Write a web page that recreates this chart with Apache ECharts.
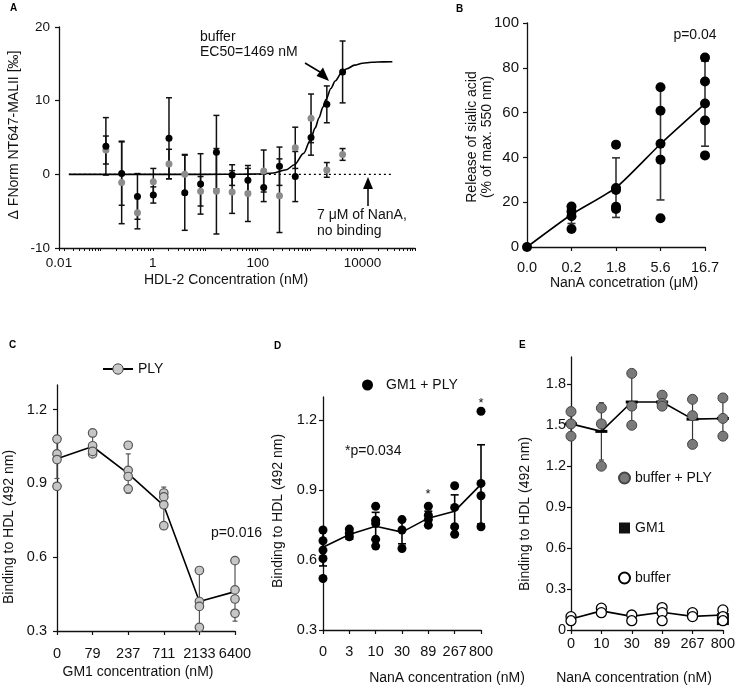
<!DOCTYPE html>
<html><head><meta charset="utf-8">
<script src="https://cdn.jsdelivr.net/npm/echarts@6/dist/echarts.min.js"></script>
<style>html,body{margin:0;padding:0;background:#fff}#c{width:738px;height:691px}</style>
</head><body><div id="c"></div>
<script>
// ---------- Panel A ----------
const aConc = [0.127,0.254,0.508,1.02,2.03,4.06,8.13,16.3,32.5,65,130,260,520,1040,2080,4160];
const aBufferMean = [3.8,0.1,-3.0,-2.8,4.9,-2.5,-1.3,3.0,-0.1,-0.8,-1.8,1.1,-0.3,5.0,9.5,13.9];
const aBufferSD   = [3.9,4.3,3.1,1.1,5.5,5.1,4.1,5.0,1.4,1.6,1.9,2.6,3.4,2.4,2.5,4.2];
const aNanAMean   = [3.3,-1.1,-5.2,-1.0,1.4,0.0,-2.3,-2.3,-2.4,-2.6,0.45,-2.9,3.6,7.6,0.6,2.7];
const aNanASD     = [1.9,5.6,2.2,1.8,2.0,2.7,2.0,5.8,2.9,3.8,2.85,5.0,2.8,3.3,1.0,0.8];
const aFitConc  = [0.025,10,50,100,200,350,500,750,1000,1250,1469,1750,2000,2500,3000,4000,5000,7000,10000,15000,25000,37000];
const aFitValue = [0,0,0.01,0.04,0.19,0.62,1.31,2.84,4.59,6.3,7.65,9.11,10.15,11.68,12.67,13.78,14.33,14.82,15.08,15.21,15.27,15.29];
const aNoBindingConc  = [0.025,37000];
const aNoBindingValue = [0,0];
const aTickValues = [0.0162,1,100,10000];
const aTickLabels = ['0.01','1','100','10000'];

// ---------- Panel B ----------
const bCats = ['0.0','0.2','1.8','5.6','16.7'];
const bReplicates = [[0],[18.1,15.9,13.7,8.0],[45.7,26.3,25.5,18.0,17.0],[71.3,60.8,46.1,39.0,12.8],[84.6,73.9,64.1,56.5,40.9]];
const bMean = [0,14.5,26.5,46,64];
const bSD   = [0,4,13.3,25,19];

// ---------- Panel C ----------
const cCats = ['0','79','237','711','2133','6400'];
const cReplicates = [[1.08,1.02,0.997,0.888],[1.105,1.053,1.02,1.03],[1.055,0.953,0.928,0.878],[0.861,0.845,0.813,0.728],[0.546,0.42,0.40,0.315],[0.586,0.467,0.43,0.372]];
const cMean = [1.0,1.05,0.94,0.81,0.42,0.46];
const cSD   = [0.08,0.04,0.08,0.075,0.12,0.12];

// ---------- Panel D ----------
const dCats = ['0','3','10','30','89','267','800'];
const dReplicates = [[0.729,0.683,0.643,0.607,0.521],[0.733,0.715,0.70],[0.831,0.771,0.757,0.689,0.66],[0.774,0.729,0.65],[0.831,0.793,0.774,0.75],[0.919,0.826,0.743,0.711],[1.239,0.929,0.876,0.743]];
const dMean = [0.655,0.71,0.745,0.72,0.78,0.81,0.925];
const dSD   = [0.08,0.02,0.06,0.05,0.03,0.07,0.17];

// ---------- Panel E ----------
const eCats = ['0','10','30','89','267','800'];
const ePlyReplicates = [[1.60,1.51,1.42],[1.626,1.51,1.20],[1.88,1.64,1.50],[1.72,1.66,1.64],[1.69,1.57,1.36],[1.70,1.55,1.42]];
const ePlyMean = [1.51,1.455,1.67,1.67,1.545,1.55];
const ePlySD   = [0.09,0.21,0.19,0.04,0.17,0.14];
const eBufferReplicates = [[0.098,0.068],[0.16,0.127],[0.11,0.068],[0.164,0.127,0.068],[0.127,0.098],[0.147,0.098,0.068]];
const eBufferMean = [0.08,0.14,0.10,0.13,0.10,0.11];
const eGm1Cats = ['800'];
const eGm1Values = [0.08];

const yTicks03 = [0.3,0.6,0.9,1.2];
const yTicksE = [0,0.3,0.6,0.9,1.2,1.5,1.8];

// ---------- helpers ----------
const FONT = 'Liberation Sans, Arial, sans-serif';
const AX = '#111';
function flat(cats, reps){ const out=[]; cats.forEach((c,i)=>reps[i].forEach(v=>out.push([c,v]))); return out; }
function pairs(xs, ys){ return xs.map((x,i)=>[x, ys[i]]); }
function errBars(xi, cats, mean, sd, o){
  return {
    type:'custom', xAxisIndex:xi, yAxisIndex:xi, z:o.z||2, silent:true,
    data: cats.map((c,i)=>[c, mean[i]-sd[i], mean[i]+sd[i], mean[i]]),
    encode:{x:0, y:[1,2]},
    renderItem(params, api){
      const x = api.value(0);
      const lo = api.coord([x, api.value(1)]);
      const hi = api.coord([x, api.value(2)]);
      const st = {stroke:o.color, lineWidth:o.width, fill:null};
      const w = o.cap/2;
      const ch = [
        {type:'line', shape:{x1:lo[0],y1:lo[1],x2:hi[0],y2:hi[1]}, style:st},
        {type:'line', shape:{x1:lo[0]-w,y1:lo[1],x2:lo[0]+w,y2:lo[1]}, style:st},
        {type:'line', shape:{x1:hi[0]-w,y1:hi[1],x2:hi[0]+w,y2:hi[1]}, style:st}
      ];
      if (o.meanDash){
        const m = api.coord([x, api.value(3)]);
        ch.push({type:'line', shape:{x1:m[0]-6,y1:m[1],x2:m[0]+6,y2:m[1]}, style:{stroke:'#000', lineWidth:3}});
      }
      return {type:'group', children:ch};
    }
  };
}
function catX(gi, cats, margin){
  return {type:'category', gridIndex:gi, data:cats, boundaryGap:false,
    axisLine:{lineStyle:{color:AX,width:1.3}}, axisTick:{length:4,interval:0,lineStyle:{color:AX,width:1.2}},
    axisLabel:{interval:0, hideOverlap:false, fontSize:14.5, color:'#111', fontFamily:FONT, margin:margin}, splitLine:{show:false}};
}
function valY(gi, o){
  const ax = {type:'value', gridIndex:gi, min:o.min, max:o.max,
    axisLine:{show:true, lineStyle:{color:AX,width:1.3}}, axisTick:{show:true,length:4,lineStyle:{color:AX,width:1.2}},
    axisLabel:{fontSize:o.fs, color:'#111', fontFamily:FONT, margin:o.margin}, splitLine:{show:false}};
  if (o.interval) ax.interval = o.interval;
  if (o.custom){ ax.axisLabel.customValues = o.custom; ax.axisTick.customValues = o.custom;
    ax.axisLabel.formatter = v => (Math.abs(v) < 1e-9 ? '0' : (+v).toFixed(1)); }
  return ax;
}

const aMinorTicks = [];
for (let e=-2; e<=4; e++) for (let m=1; m<=9; m++){ const v=m*Math.pow(10,e); if (v>=0.0162) aMinorTicks.push(+v.toPrecision(3)); }
aMinorTicks.push(100000); aMinorTicks.unshift(0.0162);

const solid = (c) => ({color:c, opacity:1});

const option = {
  animation:false,
  textStyle:{fontFamily:FONT},
  grid:[
    {left:59, top:27, width:356, height:221},
    {left:527, top:23, width:178, height:224},
    {left:57, top:385, width:178, height:246},
    {left:323, top:397, width:158, height:233},
    {left:571, top:357, width:157, height:273}
  ],
  xAxis:[
    {type:'log', gridIndex:0, logBase:10, min:0.0162, max:100000,
      axisLine:{onZero:false, lineStyle:{color:AX,width:1.3}},
      axisTick:{length:3, customValues:aMinorTicks, lineStyle:{color:AX,width:1}},
      axisLabel:{customValues:aTickValues, fontSize:13.5, color:'#111', fontFamily:FONT, margin:8,
        formatter:(v)=>{ let best=0; aTickValues.forEach((t,i)=>{ if (Math.abs(Math.log10(t)-Math.log10(v)) < Math.abs(Math.log10(aTickValues[best])-Math.log10(v))) best=i; }); return aTickLabels[best]; }},
      splitLine:{show:false}},
    catX(1, bCats, 13),
    catX(2, cCats, 15),
    catX(3, dCats, 14),
    catX(4, eCats, 6)
  ],
  yAxis:[
    valY(0,{min:-10,max:20,interval:10,fs:13.5,margin:9}),
    valY(1,{min:0,max:100,interval:20,fs:15,margin:8}),
    valY(2,{min:0.3,max:1.3,custom:yTicks03,fs:14.5,margin:10}),
    valY(3,{min:0.3,max:1.3,custom:yTicks03,fs:14.5,margin:6}),
    valY(4,{min:0,max:2.0,custom:yTicksE,fs:14.5,margin:5})
  ],
  legend:[
    {data:[{name:'PLY', itemStyle:{color:'#c8c8c8', borderColor:'#444', borderWidth:1}, lineStyle:{color:'#000', width:2}}],
      left:97, top:357, itemWidth:30, itemHeight:13, selectedMode:false, textStyle:{fontSize:14, color:'#111', fontFamily:FONT}},
    {data:[{name:'GM1 + PLY', itemStyle:{color:'#000', opacity:1}}], left:357, top:373, itemWidth:11, itemHeight:11, selectedMode:false,
      textStyle:{fontSize:14, color:'#111', fontFamily:FONT, padding:[0,0,0,8]}},
    {data:['buffer + PLY','GM1','buffer'], orient:'vertical', left:613, top:466, itemWidth:11, itemHeight:11, itemGap:36, selectedMode:false,
      textStyle:{fontSize:14, color:'#111', fontFamily:FONT}}
  ],
  series:[
    // A
    {type:'line', name:'no binding', xAxisIndex:0, yAxisIndex:0, data:pairs(aNoBindingConc,aNoBindingValue), symbol:'none',
      lineStyle:{color:'#000', width:1.3, type:[2,3]}, z:1, silent:true},
    {type:'line', name:'fit', xAxisIndex:0, yAxisIndex:0, data:pairs(aFitConc,aFitValue), symbol:'none', smooth:0.3, smoothMonotone:'x',
      lineStyle:{color:'#000', width:1.6}, z:2, silent:true},
    errBars(0, aConc, aNanAMean, aNanASD, {color:'#111', width:1.5, cap:6, z:2}),
    errBars(0, aConc, aBufferMean, aBufferSD, {color:'#111', width:1.5, cap:6, z:2}),
    {type:'scatter', name:'7 μM NanA', xAxisIndex:0, yAxisIndex:0, data:pairs(aConc,aNanAMean), symbolSize:7,
      itemStyle:solid('#8c8c8c'), z:3, silent:true},
    {type:'scatter', name:'buffer A', xAxisIndex:0, yAxisIndex:0, data:pairs(aConc,aBufferMean), symbolSize:7,
      itemStyle:solid('#000'), z:4, silent:true},
    // B
    errBars(1, bCats, bMean, bSD, {color:'#333', width:1.6, cap:8, z:2}),
    {type:'line', name:'B mean', xAxisIndex:1, yAxisIndex:1, data:bMean, symbol:'none', smooth:0.2,
      lineStyle:{color:'#000', width:1.6}, z:3, silent:true},
    {type:'scatter', name:'B rep', xAxisIndex:1, yAxisIndex:1, data:flat(bCats,bReplicates), symbolSize:10,
      itemStyle:solid('#000'), z:4, silent:true},
    // C
    errBars(2, cCats, cMean, cSD, {color:'#555', width:1.2, cap:5, z:2}),
    {type:'line', name:'PLY', xAxisIndex:2, yAxisIndex:2, data:cMean, symbol:'circle', showSymbol:false,
      itemStyle:{color:'#c8c8c8'}, lineStyle:{color:'#000', width:1.6}, z:3, silent:true},
    {type:'scatter', name:'C rep', xAxisIndex:2, yAxisIndex:2, data:flat(cCats,cReplicates), symbolSize:8.5,
      itemStyle:{color:'#c6c6c6', borderColor:'#555', borderWidth:1.2, opacity:1}, z:4, silent:true},
    // D
    errBars(3, dCats, dMean, dSD, {color:'#000', width:1.6, cap:8, z:2}),
    {type:'line', name:'D mean', xAxisIndex:3, yAxisIndex:3, data:dMean, symbol:'none',
      lineStyle:{color:'#000', width:1.6}, z:3, silent:true},
    {type:'scatter', name:'GM1 + PLY', xAxisIndex:3, yAxisIndex:3, data:flat(dCats,dReplicates), symbolSize:9,
      itemStyle:solid('#000'), z:4, silent:true},
    // E
    errBars(4, eCats, ePlyMean, ePlySD, {color:'#333', width:1.2, cap:5, z:2, meanDash:true}),
    {type:'line', name:'E ply mean', xAxisIndex:4, yAxisIndex:4, data:ePlyMean, symbol:'none',
      lineStyle:{color:'#000', width:1.6}, z:3, silent:true},
    {type:'line', name:'E buffer mean', xAxisIndex:4, yAxisIndex:4, data:eBufferMean, symbol:'none',
      lineStyle:{color:'#000', width:1.6}, z:3, silent:true},
    {type:'scatter', name:'buffer + PLY', xAxisIndex:4, yAxisIndex:4, data:flat(eCats,ePlyReplicates), symbolSize:10,
      itemStyle:{color:'#7a7a7a', borderColor:'#444', borderWidth:1, opacity:1}, z:4, silent:true},
    {type:'scatter', name:'GM1', xAxisIndex:4, yAxisIndex:4, data:pairs(eGm1Cats,eGm1Values), symbol:'rect', symbolSize:12,
      itemStyle:solid('#111'), z:4, silent:true},
    {type:'scatter', name:'buffer', xAxisIndex:4, yAxisIndex:4, data:flat(eCats,eBufferReplicates), symbolSize:10,
      itemStyle:{color:'#fff', borderColor:'#000', borderWidth:1.3, opacity:1}, z:5, silent:true}
  ],
  graphic:[
    {type:'text', x:10, y:3, style:{text:'A', font:'bold 10px '+FONT, fill:'#000'}},
    {type:'text', x:456, y:4, style:{text:'B', font:'bold 10px '+FONT, fill:'#000'}},
    {type:'text', x:9, y:340, style:{text:'C', font:'bold 10px '+FONT, fill:'#000'}},
    {type:'text', x:274, y:341, style:{text:'D', font:'bold 10px '+FONT, fill:'#000'}},
    {type:'text', x:519, y:340, style:{text:'E', font:'bold 10px '+FONT, fill:'#000'}},
    {type:'text', x:14, y:135, rotation:Math.PI/2, style:{text:'Δ FNorm NT647-MALII [‰]', x:0, y:0, align:'center', verticalAlign:'middle', font:'14px '+FONT, fill:'#111'}},
    {type:'text', x:226, y:280, style:{text:'HDL-2 Concentration (nM)', x:0, y:0, align:'center', verticalAlign:'middle', font:'14px '+FONT, fill:'#111'}},
    {type:'text', x:480, y:137, rotation:Math.PI/2, style:{text:'Release of sialic acid\n(% of max. 550 nm)', x:0, y:0, align:'center', verticalAlign:'middle', lineHeight:15, font:'14px '+FONT, fill:'#111'}},
    {type:'text', x:624, y:283, style:{text:'NanA concetration (μM)', x:0, y:0, align:'center', verticalAlign:'middle', font:'14px '+FONT, fill:'#111'}},
    {type:'text', x:9, y:527, rotation:Math.PI/2, style:{text:'Binding to HDL (492 nm)', x:0, y:0, align:'center', verticalAlign:'middle', font:'14px '+FONT, fill:'#111'}},
    {type:'text', x:138, y:672, style:{text:'GM1 concentration (nM)', x:0, y:0, align:'center', verticalAlign:'middle', font:'14px '+FONT, fill:'#111'}},
    {type:'text', x:278, y:511, rotation:Math.PI/2, style:{text:'Binding to HDL (492 nm)', x:0, y:0, align:'center', verticalAlign:'middle', font:'14px '+FONT, fill:'#111'}},
    {type:'text', x:447, y:678, style:{text:'NanA concentration (nM)', x:0, y:0, align:'center', verticalAlign:'middle', font:'14px '+FONT, fill:'#111'}},
    {type:'text', x:525, y:514, rotation:Math.PI/2, style:{text:'Binding to HDL (492 nm)', x:0, y:0, align:'center', verticalAlign:'middle', font:'14px '+FONT, fill:'#111'}},
    {type:'text', x:634, y:678, style:{text:'NanA concentration (nM)', x:0, y:0, align:'center', verticalAlign:'middle', font:'14px '+FONT, fill:'#111'}},
    {type:'text', x:200, y:37, style:{text:'buffer', x:0, y:0, verticalAlign:'middle', font:'14px '+FONT, fill:'#111'}},
    {type:'text', x:200, y:52, style:{text:'EC50=1469 nM', x:0, y:0, verticalAlign:'middle', font:'14px '+FONT, fill:'#111'}},
    {type:'line', shape:{x1:305, y1:63, x2:320, y2:72}, style:{stroke:'#000', lineWidth:1.5}},
    {type:'polygon', shape:{points:[[329,81],[316.5,76],[323,67.5]]}, style:{fill:'#000'}},
    {type:'line', shape:{x1:368, y1:206, x2:368, y2:188}, style:{stroke:'#000', lineWidth:1.5}},
    {type:'polygon', shape:{points:[[368,177],[363,189],[373,189]]}, style:{fill:'#000'}},
    {type:'text', x:317, y:215, style:{text:'7 μM of NanA,', x:0, y:0, verticalAlign:'middle', font:'14px '+FONT, fill:'#111'}},
    {type:'text', x:317, y:231, style:{text:'no binding', x:0, y:0, verticalAlign:'middle', font:'14px '+FONT, fill:'#111'}},
    {type:'text', x:695, y:35, style:{text:'p=0.04', x:0, y:0, align:'center', verticalAlign:'middle', font:'14px '+FONT, fill:'#111'}},
    {type:'text', x:211, y:533, style:{text:'p=0.016', x:0, y:0, verticalAlign:'middle', font:'14px '+FONT, fill:'#111'}},
    {type:'text', x:345, y:451, style:{text:'*p=0.034', x:0, y:0, verticalAlign:'middle', font:'14px '+FONT, fill:'#111'}},
    {type:'text', x:428, y:494, style:{text:'*', x:0, y:0, align:'center', verticalAlign:'middle', font:'13px '+FONT, fill:'#111'}},
    {type:'text', x:481, y:403, style:{text:'*', x:0, y:0, align:'center', verticalAlign:'middle', font:'13px '+FONT, fill:'#111'}}
  ]
};
const chart = echarts.init(document.getElementById('c'), null, {renderer:'canvas'});
chart.setOption(option);
</script></body></html>
